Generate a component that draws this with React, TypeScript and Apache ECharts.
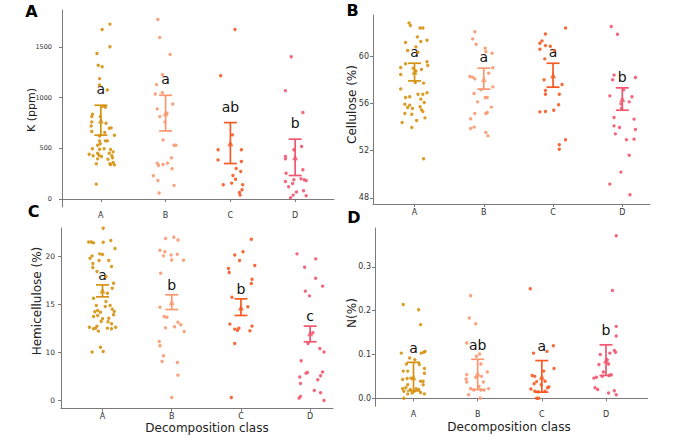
import React, { useEffect, useRef } from "react";
import * as echarts from "echarts";

// Decomposition classes and their colours
const classes = ["A", "B", "C", "D"];
const classColors = ["#D6920F", "#F99870", "#F55A24", "#F2566E"];

// Each point: [horizontal jitter within class, measured value]
// K (ppm)
const kA = [[0.14,1723],[0.02,1670],[0.14,1500],[-0.06,1434],[-0.04,1317],[0.02,1303],[-0.02,1186],[-0.02,1123],[0.10,1074],[0.03,915],[0.07,905],[-0.13,835],[-0.14,812],[-0.01,812],[-0.14,760],[-0.15,720],[0.08,747],[0.13,698],[0.16,701],[0.06,655],[-0.14,665],[-0.02,622],[0.21,629],[-0.02,573],[0.07,573],[0.10,573],[-0.05,531],[-0.01,544],[-0.13,495],[-0.02,491],[0.15,488],[0.05,495],[0.19,465],[-0.05,452],[-0.18,442],[-0.03,432],[0.17,426],[-0.12,426],[0.01,419],[0.13,452],[-0.05,396],[0.11,393],[0.18,406],[-0.07,347],[0.14,347],[0.19,360],[0.15,341],[0.21,337],[-0.07,147]];
const kB = [[-0.12,1769],[-0.09,1592],[0.07,1425],[-0.05,1225],[-0.14,1127],[-0.16,1035],[-0.05,1048],[0.11,937],[-0.13,888],[-0.09,812],[0.02,845],[-0.01,760],[-0.04,583],[0.13,531],[0.16,531],[0.09,406],[0.03,354],[-0.04,341],[-0.13,354],[-0.11,331],[0.10,298],[-0.19,229],[-0.12,183],[0.13,134],[-0.10,59]];
const kC = [[0.07,1670],[-0.15,1215],[0.03,632],[-0.19,485],[0.17,485],[-0.19,386],[0.17,370],[0.16,272],[0.09,301],[0.04,232],[0.08,196],[-0.11,141],[0.02,157],[0.19,141],[0.18,92],[0.14,65],[0.15,39]];
const kD = [[-0.06,1402],[-0.15,1068],[0.12,852],[0.10,517],[-0.02,485],[-0.15,419],[-0.15,396],[-0.14,255],[0.12,288],[0.09,200],[0.14,190],[0.17,183],[-0.15,174],[-0.02,190],[-0.04,154],[-0.10,121],[0.02,69],[0.13,82],[-0.03,39],[-0.07,13],[0.17,33]];
const kMean = [773, 845, 550, 413];
const kLow = [629, 671, 350, 232];
const kHigh = [924, 1022, 753, 590];
const kLetters = ["a", "a", "ab", "b"];
const kTicks = [0, 500, 1000, 1500];

// Cellulose (%)
const cellA = [[-0.08,62.86],[-0.06,62.63],[0.08,62.43],[0.12,62.43],[0.04,61.67],[0.18,61.39],[-0.13,61.19],[0.09,61.27],[0.02,60.82],[-0.10,60.51],[0.05,60.37],[-0.13,59.38],[0.18,59.55],[-0.20,59.07],[0.19,59.24],[-0.02,59.0],[0.02,58.78],[0.10,58.9],[-0.20,58.47],[0.01,57.79],[0.13,57.74],[-0.20,57.25],[0.05,56.8],[0.12,56.8],[0.18,56.92],[-0.13,56.52],[-0.07,56.58],[0.09,56.38],[0.14,56.1],[-0.14,55.95],[-0.07,55.87],[0.08,55.73],[-0.10,55.67],[-0.03,55.59],[0.10,55.47],[0.12,55.33],[-0.14,55.16],[-0.04,55.1],[0.15,54.79],[0.03,54.57],[-0.18,54.4],[-0.04,53.97],[0.13,51.31]];
const cellB = [[-0.13,62.1],[-0.16,61.5],[-0.11,61.05],[0.02,60.71],[0.12,60.28],[0.03,60.4],[0.13,59.04],[0.07,58.58],[-0.20,58.3],[-0.16,58.25],[-0.13,58.1],[-0.04,57.17],[0.13,57.42],[-0.14,56.86],[0.02,56.52],[0.05,56.52],[-0.09,56.15],[0.11,55.7],[0.05,55.25],[0.03,55.16],[-0.13,55.16],[-0.19,54.71],[-0.19,53.89],[-0.14,54.0],[0.03,53.55],[0.06,53.26]];
const cellC = [[0.18,62.43],[-0.11,61.92],[-0.16,61.33],[-0.19,61.13],[-0.11,60.93],[-0.04,60.88],[-0.19,60.62],[0.02,60.51],[-0.12,59.8],[-0.13,58.02],[0.13,57.62],[-0.11,57.11],[-0.11,56.8],[0.09,56.8],[0.08,55.9],[0.01,55.44],[-0.19,55.3],[-0.11,55.33],[0.18,52.93],[0.09,52.5],[0.09,52.13]];
const cellD = [[-0.16,62.55],[-0.07,61.9],[-0.12,58.42],[-0.14,58.02],[0.19,58.22],[-0.18,56.66],[0.14,56.58],[0.02,57.17],[-0.02,55.98],[0.10,56.15],[-0.01,55.61],[-0.12,54.82],[0.17,54.68],[-0.12,54.11],[-0.04,53.97],[0.19,53.8],[-0.10,53.43],[0.17,52.98],[0.06,52.93],[0.10,51.62],[-0.02,50.18],[-0.18,49.16],[0.11,48.26]];
const cellMean = [58.7, 58.1, 58.4, 56.4];
const cellLow = [57.93, 57.23, 57.4, 55.44];
const cellHigh = [59.43, 59.01, 59.43, 57.34];
const cellLetters = ["a", "a", "a", "b"];
const cellTicks = [48, 52, 56, 60];

// Hemicellulose (%)
const hemiA = [[0.01,22.95],[-0.20,21.52],[-0.16,21.52],[-0.13,21.42],[0.01,21.49],[0.12,21.66],[0.18,20.83],[-0.04,20.28],[0.00,20.21],[-0.15,20.07],[-0.18,19.83],[0.09,19.58],[-0.05,19.58],[-0.14,19.27],[0.13,18.96],[-0.14,18.86],[-0.08,18.44],[0.05,17.89],[0.16,17.23],[0.14,16.71],[0.07,16.19],[-0.13,15.67],[0.05,15.32],[-0.09,14.91],[0.04,14.8],[0.11,14.91],[-0.07,14.39],[0.14,14.53],[0.17,14.28],[-0.03,14.21],[-0.11,14.25],[-0.07,13.87],[-0.13,13.76],[0.16,13.94],[0.09,13.59],[-0.02,13.24],[0.00,13.52],[0.08,13.21],[0.13,13.0],[-0.19,12.65],[-0.08,12.76],[0.19,12.65],[0.07,12.55],[0.13,12.48],[-0.10,12.55],[-0.13,12.48],[-0.06,12.24],[-0.03,10.57],[-0.15,10.06],[0.01,10.12]];
const hemiB = [[-0.09,21.87],[0.03,22.01],[0.09,21.73],[-0.17,20.66],[-0.10,20.49],[-0.12,20.07],[-0.01,20.17],[0.08,20.24],[0.00,19.65],[0.17,19.62],[-0.16,18.27],[-0.17,14.73],[-0.11,13.76],[-0.07,13.69],[0.09,13.17],[0.13,12.9],[-0.09,12.58],[0.04,12.69],[0.18,12.2],[-0.18,11.16],[-0.17,10.71],[-0.12,9.67],[-0.14,9.09],[0.08,8.98],[0.09,7.66],[0.00,5.34]];
const hemiC = [[0.15,21.8],[0.03,20.49],[-0.09,20.17],[-0.02,19.58],[-0.18,18.75],[0.20,19.06],[-0.17,18.34],[0.16,17.64],[0.15,17.19],[-0.13,15.77],[0.10,14.77],[-0.16,12.97],[-0.03,12.55],[-0.05,12.34],[-0.09,12.45],[0.16,12.76],[0.13,12.27],[-0.09,10.96],[-0.14,5.34]];
const hemiD = [[-0.19,20.28],[0.08,19.76],[-0.08,18.89],[0.08,17.75],[0.18,16.92],[-0.07,16.4],[-0.01,15.91],[0.04,12.07],[-0.03,10.96],[0.14,10.44],[0.20,10.06],[-0.13,9.15],[-0.06,7.87],[-0.04,7.94],[0.18,7.98],[0.15,7.6],[-0.15,7.46],[0.11,7.18],[-0.14,6.8],[0.06,6.07],[0.15,5.83],[-0.14,5.45],[-0.16,5.27],[0.20,5.03]];
const hemiMean = [16.47, 15.25, 14.7, 12.03];
const hemiLow = [15.81, 14.49, 13.87, 11.13];
const hemiHigh = [17.05, 16.02, 15.6, 12.76];
const hemiLetters = ["a", "b", "b", "c"];
const hemiTicks = [5, 10, 15, 20];
const hemiTickLabels = ["0", "10", "15", "20"];

// N (%)
const nA = [[-0.16,0.214],[0.08,0.202],[0.11,0.168],[0.18,0.107],[-0.19,0.103],[0.12,0.103],[0.16,0.105],[-0.06,0.092],[0.02,0.088],[-0.11,0.078],[0.09,0.077],[-0.16,0.062],[-0.09,0.062],[0.17,0.068],[0.17,0.057],[-0.10,0.045],[-0.04,0.046],[0.11,0.039],[-0.17,0.043],[0.15,0.039],[-0.09,0.031],[0.15,0.031],[-0.17,0.022],[-0.12,0.024],[-0.05,0.02],[0.04,0.022],[0.08,0.02],[-0.15,0.016],[0.01,0.016],[0.11,0.013],[0.17,0.01],[-0.02,0.012],[-0.09,0.01],[-0.15,0.0]];
const nB = [[-0.11,0.234],[-0.13,0.183],[-0.03,0.17],[-0.17,0.126],[0.03,0.101],[-0.02,0.096],[0.05,0.078],[0.15,0.06],[-0.17,0.054],[-0.03,0.048],[0.06,0.05],[-0.18,0.044],[-0.17,0.037],[0.02,0.027],[0.09,0.037],[-0.11,0.022],[-0.06,0.019],[0.05,0.019],[0.10,0.019],[0.17,0.022],[-0.14,0.008],[0.04,0.0]];
const nC = [[-0.18,0.25],[0.18,0.12],[0.08,0.107],[-0.13,0.103],[0.03,0.062],[0.19,0.068],[-0.15,0.052],[-0.11,0.05],[-0.08,0.038],[0.05,0.039],[-0.12,0.033],[-0.01,0.031],[0.11,0.026],[0.09,0.024],[-0.17,0.021],[-0.11,0.016],[0.05,0.016],[-0.06,0.015],[-0.08,0.0],[-0.05,0.0]];
const nD = [[0.16,0.371],[0.10,0.246],[0.16,0.164],[0.16,0.142],[-0.09,0.1],[0.06,0.103],[0.15,0.105],[0.13,0.109],[0.02,0.088],[-0.11,0.077],[0.04,0.078],[-0.04,0.06],[0.08,0.054],[0.05,0.052],[-0.06,0.05],[-0.19,0.046],[-0.15,0.048],[-0.17,0.024],[-0.13,0.02],[0.04,0.012],[0.13,0.017],[0.16,0.008]];
const nMean = [0.048, 0.056, 0.049, 0.086];
const nLow = [0.017, 0.02, 0.014, 0.052];
const nHigh = [0.082, 0.089, 0.086, 0.122];
const nLetters = ["a", "ab", "a", "b"];
const nTicks = [0, 0.1, 0.2, 0.3];

const FONT = "DejaVu Sans";

type Panel = {
  groups: number[][][];
  mean: number[];
  low: number[];
  high: number[];
  letters: string[];
  ticks: number[];
  tickText: (v: number) => string;
  grid: { left: number; top: number; width: number; height: number };
  xMax: number;
  yMin: number;
  yMax: number;
  labelMargin: number;
  labelSize: number;
  letterGap: number;
};

const panels: Panel[] = [
  {
    groups: [kA, kB, kC, kD], mean: kMean, low: kLow, high: kHigh, letters: kLetters,
    ticks: kTicks, tickText: (v) => String(v),
    grid: { left: 62, top: 10, width: 272, height: 197 }, xMax: 4.6, yMin: -78, yMax: 1862,
    labelMargin: 10, labelSize: 6.5, letterGap: 16,
  },
  {
    groups: [cellA, cellB, cellC, cellD], mean: cellMean, low: cellLow, high: cellHigh, letters: cellLetters,
    ticks: cellTicks, tickText: (v) => String(v),
    grid: { left: 373, top: 15, width: 277, height: 189 }, xMax: 4.4, yMin: 47.47, yMax: 63.53,
    labelMargin: 4, labelSize: 8, letterGap: 11,
  },
  {
    groups: [hemiA, hemiB, hemiC, hemiD], mean: hemiMean, low: hemiLow, high: hemiHigh, letters: hemiLetters,
    ticks: hemiTicks, tickText: (v) => hemiTickLabels[hemiTicks.indexOf(v)] ?? String(v),
    grid: { left: 61, top: 228, width: 272, height: 180.7 }, xMax: 4.33, yMin: 4.17, yMax: 22.97,
    labelMargin: 6, labelSize: 7.5, letterGap: 10,
  },
  {
    groups: [nA, nB, nC, nD], mean: nMean, low: nLow, high: nHigh, letters: nLetters,
    ticks: nTicks, tickText: (v) => v.toFixed(1),
    grid: { left: 375, top: 228, width: 272.7, height: 178.3 }, xMax: 4.65, yMin: -0.0183, yMax: 0.3885,
    labelMargin: 4, labelSize: 8, letterGap: 14.5,
  },
];

function buildOption() {
  const grid: any[] = [];
  const xAxis: any[] = [];
  const yAxis: any[] = [];
  const series: any[] = [];

  panels.forEach((p, pi) => {
    grid.push({ ...p.grid });
    xAxis.push({
      type: "value", gridIndex: pi, min: 0.4, max: p.xMax,
      axisLine: { show: true, lineStyle: { color: "#7a7a7a", width: 1 } },
      axisTick: { show: true, length: 3, customValues: [1, 2, 3, 4], lineStyle: { color: "#7a7a7a" } },
      axisLabel: {
        customValues: [1, 2, 3, 4], margin: 4, fontSize: 8, fontFamily: FONT, color: "#333",
        formatter: (v: number) => classes[Math.round(v) - 1] ?? "",
      },
      splitLine: { show: false },
    });
    yAxis.push({
      type: "value", gridIndex: pi, min: p.yMin, max: p.yMax,
      axisLine: { show: true, lineStyle: { color: "#7a7a7a", width: 1 } },
      axisTick: { show: true, length: 3, customValues: p.ticks, lineStyle: { color: "#7a7a7a" } },
      axisLabel: {
        customValues: p.ticks, margin: p.labelMargin, fontSize: p.labelSize, fontFamily: FONT, color: "#333",
        formatter: (v: number) => p.tickText(v),
      },
      splitLine: { show: false },
    });

    // jittered raw observations
    p.groups.forEach((pts, gi) => {
      series.push({
        type: "scatter", xAxisIndex: pi, yAxisIndex: pi, symbol: "circle", symbolSize: 3.4,
        itemStyle: { color: classColors[gi], opacity: 0.9 },
        clip: false,
        data: pts.map(([j, v]) => [gi + 1 + j, v]),
      });
    });

    // mean ± interval with group letters above the upper cap
    series.push({
      type: "custom", xAxisIndex: pi, yAxisIndex: pi, clip: false,
      data: classes.map((_, i) => [i + 1, p.low[i], p.high[i]]),
      renderItem: (params: any, api: any) => {
        const i = params.dataIndex;
        const x = api.value(0);
        const lo = api.coord([x, api.value(1)]);
        const hi = api.coord([x, api.value(2)]);
        const c = classColors[i];
        const hw = 6.5;
        const st = { stroke: c, lineWidth: 1.7 };
        return {
          type: "group",
          children: [
            { type: "line", shape: { x1: lo[0], y1: lo[1], x2: hi[0], y2: hi[1] }, style: st },
            { type: "line", shape: { x1: lo[0] - hw, y1: lo[1], x2: lo[0] + hw, y2: lo[1] }, style: st },
            { type: "line", shape: { x1: hi[0] - hw, y1: hi[1], x2: hi[0] + hw, y2: hi[1] }, style: st },
            {
              type: "text", x: hi[0], y: hi[1] - p.letterGap,
              style: {
                text: p.letters[i], fill: "#111", fontSize: 14, fontFamily: FONT,
                align: "center", verticalAlign: "middle",
              },
            },
          ],
        };
      },
    });

    // group means
    series.push({
      type: "scatter", xAxisIndex: pi, yAxisIndex: pi, symbol: "triangle", symbolSize: 6,
      data: p.mean.map((m, i) => ({ value: [i + 1, m], itemStyle: { color: classColors[i] } })),
    });
  });

  const titleStyle = { fill: "#222", fontSize: 12, fontFamily: FONT, align: "center", verticalAlign: "middle" };
  const vtitle = (text: string, x: number, y: number, size = 12) => ({
    type: "text", x, y, rotation: Math.PI / 2,
    style: { ...titleStyle, text, fontSize: size },
  });
  const htitle = (text: string, x: number, y: number) => ({
    type: "text", x, y, style: { ...titleStyle, text },
  });
  const letter = (text: string, x: number, y: number) => ({
    type: "text", x, y,
    style: { text, fill: "#000", fontSize: 16, fontWeight: "bold", fontFamily: FONT, align: "center", verticalAlign: "middle" },
  });

  return {
    animation: false,
    backgroundColor: "#ffffff",
    grid, xAxis, yAxis, series,
    graphic: [
      vtitle("K (ppm)", 31, 110, 11),
      vtitle("Cellulose (%)", 352, 104.5),
      vtitle("Hemicellulose (%)", 37, 301),
      vtitle("N(%)", 352, 313),
      htitle("Decomposition class", 207, 428),
      htitle("Decomposition class", 509, 426.5),
      letter("A", 31.5, 11.5),
      letter("B", 352.5, 10.5),
      letter("C", 33.5, 211),
      letter("D", 354, 217.5),
    ],
  };
}

export default function App() {
  const ref = useRef<HTMLDivElement>(null);
  useEffect(() => {
    if (!ref.current) return;
    const chart = echarts.init(ref.current, undefined, { renderer: "svg" });
    chart.setOption(buildOption() as any);
    return () => chart.dispose();
  }, []);
  return (
    <div
      ref={ref}
      style={{ position: "fixed", left: 0, top: 0, width: 691, height: 436, background: "#fff" }}
    />
  );
}
